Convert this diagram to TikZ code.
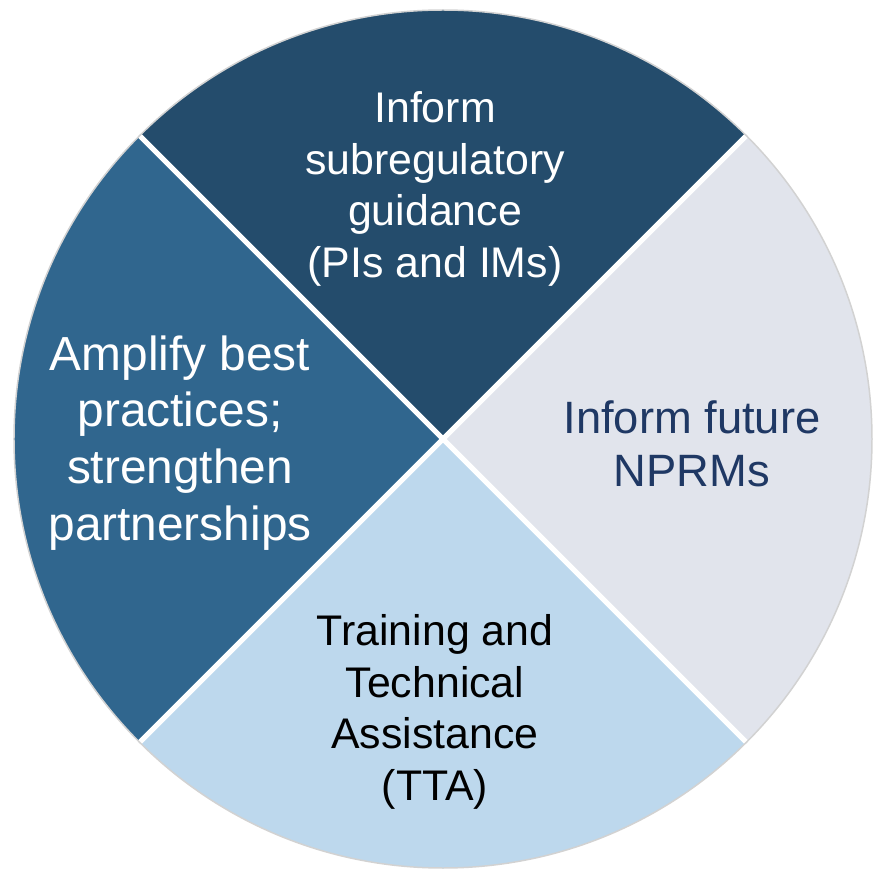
\documentclass[tikz,border=0pt]{standalone}
\usepackage{fontspec}
\setmainfont{Liberation Sans}
\usetikzlibrary{positioning,calc}
\definecolor{topblue}{HTML}{244C6C}
\definecolor{leftblue}{HTML}{30668E}
\definecolor{lowblue}{HTML}{BDD8ED}
\definecolor{paleblue}{HTML}{E1E4EC}
\definecolor{inkblue}{HTML}{1F3864}

\begin{document}
\begin{tikzpicture}[x=1bp,y=1bp,font=\fontsize{43}{52}\selectfont]
\useasboundingbox (-443,-435) rectangle (431,439);
\coordinate (c) at (0,0);
\begin{scope}
  \clip (c) circle (429);
  \fill[topblue] (c) -- (-450,450) -- (450,450) -- cycle;
  \fill[leftblue] (c) -- (-450,450) -- (-450,-450) -- cycle;
  \fill[lowblue] (c) -- (-450,-450) -- (450,-450) -- cycle;
  \fill[paleblue] (c) -- (450,450) -- (450,-450) -- cycle;
\end{scope}
\foreach \a in {45,135,225,315}{
  \draw[white,line width=5] (c) -- (\a:429);
}
\draw[gray!35,line width=1.5] (c) circle (429);
\node[align=center,text=white] (guide) at (-8,250) {Inform\\subregulatory\\guidance\\(PIs and IMs)};
\node[align=center,text=white,font=\fontsize{48}{57}\selectfont] (amplify) at (-263,-4) {Amplify best\\practices;\\strengthen\\partnerships};
\node[align=center,text=inkblue,font=\fontsize{45.5}{53}\selectfont] (nprm) at (249,-5) {Inform future\\NPRMs};
\node[align=center,text=black] (tta) at (-8,-273) {Training and\\Technical\\Assistance\\(TTA)};
\end{tikzpicture}
\end{document}
